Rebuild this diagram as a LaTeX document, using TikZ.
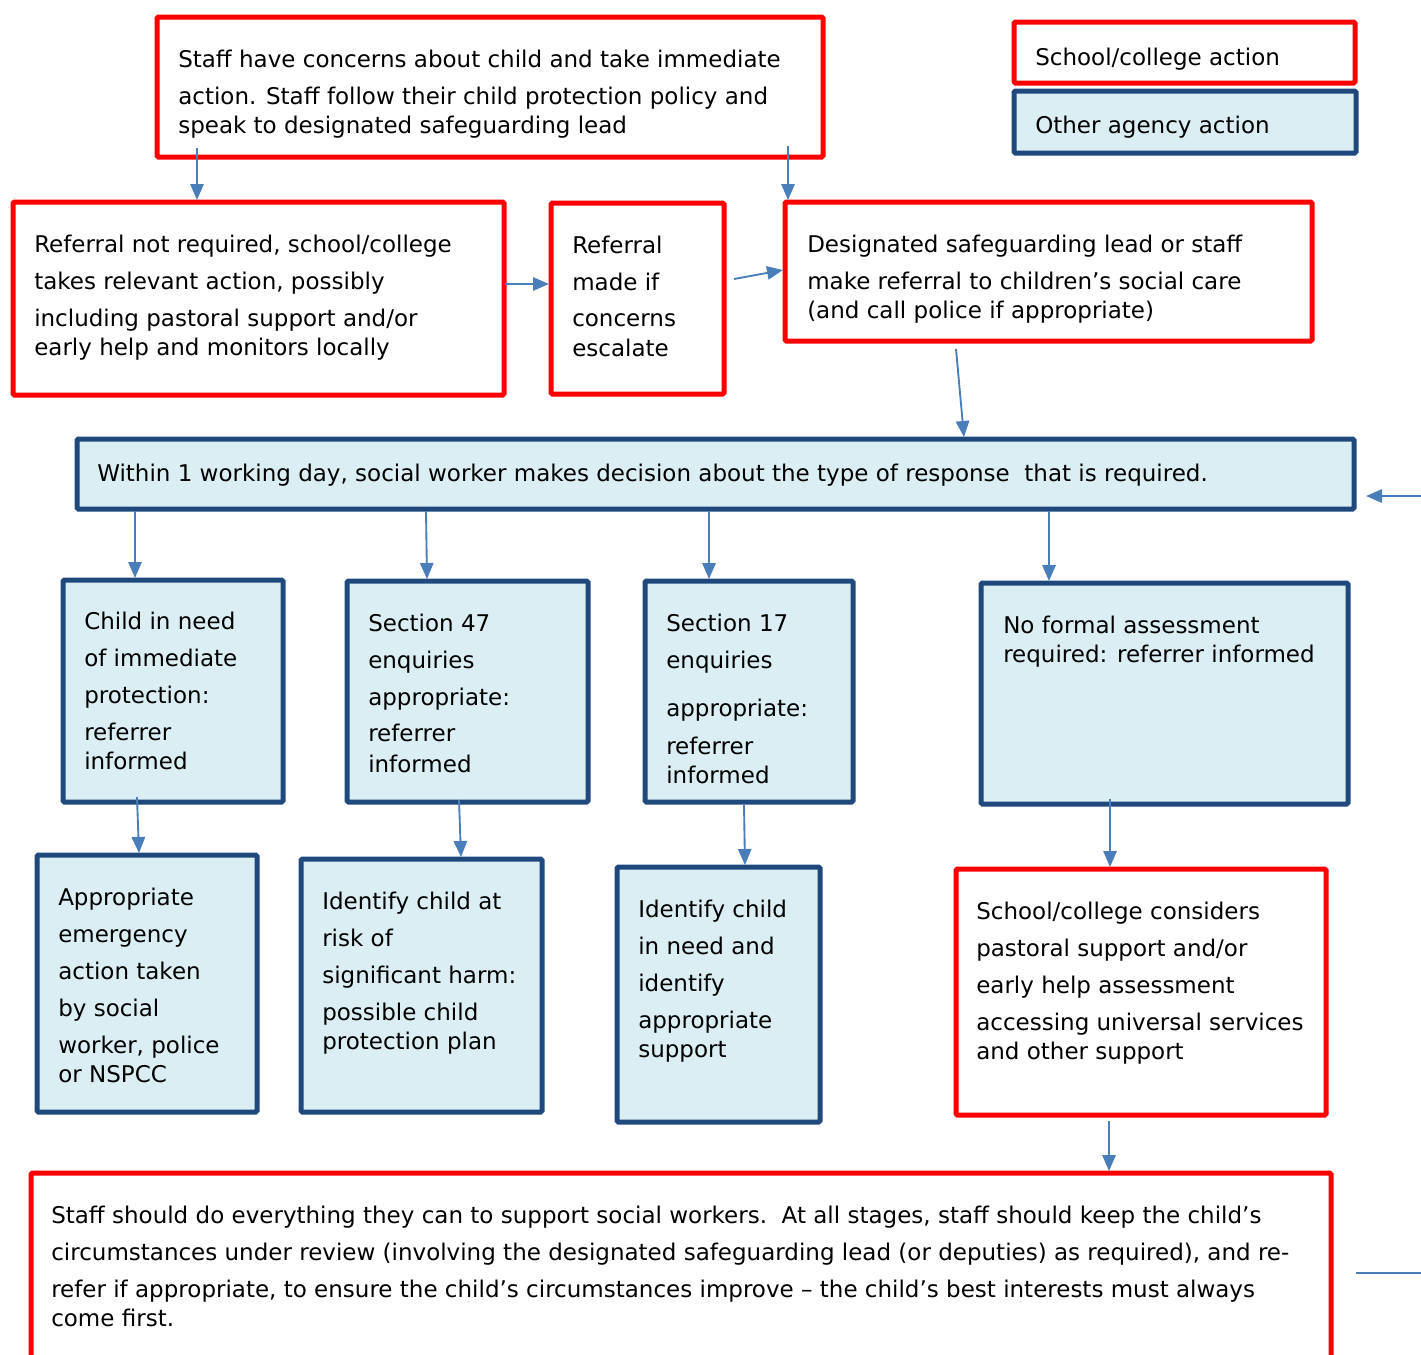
\documentclass[tikz,border=0pt]{standalone}
\usepackage{fontspec}
\setmainfont{DejaVu Sans}
\usetikzlibrary{arrows.meta,fit}
\definecolor{schoolred}{HTML}{FF0000}
\definecolor{agencyblue}{HTML}{1F497D}
\definecolor{agencyfill}{HTML}{DAEEF3}
\definecolor{arrowblue}{HTML}{4A7EBB}
\newcommand\flowfont{\fontsize{17.25pt}{21.75pt}\selectfont}

\begin{document}
\begin{tikzpicture}[
    x=0.75pt, y=-0.75pt,
    school/.style={draw=schoolred, line width=3.75pt, fill=white,
        rounded corners=1pt, inner sep=0pt, outer sep=0pt},
    agency/.style={draw=agencyblue, line width=3.75pt, fill=agencyfill,
        rounded corners=1pt, inner sep=0pt, outer sep=0pt},
    txt/.style={anchor=north west, inner sep=0pt, align=left, font=\flowfont},
    arr/.style={draw=arrowblue, line width=1.4pt,
        -{Triangle[length=12pt, width=10pt]}},
    plain/.style={draw=arrowblue, line width=1.4pt}
]
    \useasboundingbox (0,0) rectangle (1421,1354);
    \clip (0,0) rectangle (1421,1354);

    \node[school, fit={(157,17) (823,157)}] (concern) {};
    \node[school, fit={(1014,22) (1355,83)}] (keyschool) {};
    \node[agency, fit={(1014,91) (1356,153)}] (keyagency) {};
    \node[school, fit={(13,202) (504,395)}] (notreq) {};
    \node[school, fit={(551,203) (724,394)}] (made) {};
    \node[school, fit={(785,202) (1312,341)}] (dsl) {};
    \node[agency, fit={(77,439) (1354,509)}] (decision) {};
    \node[agency, fit={(63,580) (283,802)}] (imm) {};
    \node[agency, fit={(347,581) (588,802)}] (sfortyseven) {};
    \node[agency, fit={(645,581) (853,802)}] (sseventeen) {};
    \node[agency, fit={(981,583) (1348,804)}] (noform) {};
    \node[agency, fit={(37,855) (257,1112)}] (emerg) {};
    \node[agency, fit={(301,859) (542,1112)}] (risk) {};
    \node[agency, fit={(617,867) (820,1122)}] (inneed) {};
    \node[school, fit={(956,869) (1326,1115)}] (considers) {};
    \node[school, fit={(31,1173) (1331,1400)}] (review) {};

    \node[txt] (concern-t) at ([shift={(21,30.2)}]concern.north west)
        {\strut Staff have concerns about child and take immediate\\[6pt]
         action. Staff follow their child protection policy and\\
         speak to designated safeguarding lead};
    \node[txt] (keyschool-t) at ([shift={(21,23.2)}]keyschool.north west)
        {\strut School/college action};
    \node[txt] (keyagency-t) at ([shift={(21,22.2)}]keyagency.north west)
        {\strut Other agency action};
    \node[txt] (notreq-t) at ([shift={(21,30.2)}]notreq.north west)
        {\strut Referral not required, school/college\\[6pt]
         takes relevant action, possibly\\[6pt]
         including pastoral support and/or\\
         early help and monitors locally};
    \node[txt] (made-t) at ([shift={(21,30.2)}]made.north west)
        {\strut Referral\\[6pt] made if\\[5.25pt] concerns\\[0.75pt] escalate};
    \node[txt] (dsl-t) at ([shift={(22,30.2)}]dsl.north west)
        {\strut Designated safeguarding lead or staff\\[6pt]
         make referral to children’s social care\\
         (and call police if appropriate)};
    \node[txt] (decision-t) at ([shift={(20,22.2)}]decision.north west)
        {\strut Within 1 working day, social worker makes decision about the type of response\ \ that is required.};
    \node[txt] (imm-t) at ([shift={(21,29.2)}]imm.north west)
        {\strut Child in need\\[6pt] of immediate\\[6pt] protection:\\[6pt] referrer\\ informed};
    \node[txt] (sfortyseven-t) at ([shift={(21,30.2)}]sfortyseven.north west)
        {\strut Section 47\\[6pt] enquiries\\[6pt] appropriate:\\[5.25pt] referrer\\[1.5pt] informed};
    \node[txt] (sseventeen-t) at ([shift={(21,30.2)}]sseventeen.north west)
        {\strut Section 17\\[6pt] enquiries\\[14.25pt] appropriate:\\[6.75pt] referrer\\ informed};
    \node[txt] (noform-t) at ([shift={(22,30.2)}]noform.north west)
        {\strut No formal assessment\\ required: referrer informed};
    \node[txt] (emerg-t) at ([shift={(21,30.2)}]emerg.north west)
        {\strut Appropriate\\[6pt] emergency\\[6pt] action taken\\[6pt] by social\\[6pt] worker, police\\ or NSPCC};
    \node[txt] (risk-t) at ([shift={(21,30.2)}]risk.north west)
        {\strut Identify child at\\[6pt] risk of\\[6pt] significant harm:\\[6pt] possible child\\ protection plan};
    \node[txt] (inneed-t) at ([shift={(21,30.2)}]inneed.north west)
        {\strut Identify child\\[6pt] in need and\\[6pt] identify\\[6pt] appropriate\\ support};
    \node[txt] (considers-t) at ([shift={(20,30.2)}]considers.north west)
        {\strut School/college considers\\[6pt] pastoral support and/or\\[6pt] early help assessment\\[6pt] accessing universal services\\ and other support};
    \node[txt] (review-t) at ([shift={(20,30.2)}]review.north west)
        {\strut Staff should do everything they can to support social workers.\ \ At all stages, staff should keep the child’s\\[6pt]
         circumstances under review (involving the designated safeguarding lead (or deputies) as required), and re-\\[6pt]
         refer if appropriate, to ensure the child’s circumstances improve – the child’s best interests must always\\
         come first.};

    \coordinate (loopin) at (1421,496);
    \coordinate (loopout) at (1421,1273);

    \draw[arr] ([shift={(40,-9)}]concern.south west) -- ([shift={(184,-2)}]notreq.north west);
    \draw[arr] ([shift={(631,-11)}]concern.south west) -- ([shift={(3,-2)}]dsl.north west);
    \draw[arr] ([shift={(1,82)}]notreq.north east) -- ([shift={(-2,81)}]made.north west);
    \draw[arr] ([shift={(10,76)}]made.north east) -- ([shift={(-2,68)}]dsl.north west);
    \draw[arr] ([shift={(171,8)}]dsl.south west) -- ([shift={(887,-2)}]decision.north west);
    \draw[arr] ([shift={(58,2)}]decision.south west) -- ([shift={(72,-2)}]imm.north west);
    \draw[arr] ([shift={(349,2)}]decision.south west) -- ([shift={(80,-2)}]sfortyseven.north west);
    \draw[arr] ([shift={(632,2)}]decision.south west) -- ([shift={(64,-2)}]sseventeen.north west);
    \draw[arr] ([shift={(972,2)}]decision.south west) -- ([shift={(68,-2)}]noform.north west);
    \draw[arr] ([shift={(74,-5)}]imm.south west) -- ([shift={(102,-2)}]emerg.north west);
    \draw[arr] ([shift={(112,-2)}]sfortyseven.south west) -- ([shift={(160,-2)}]risk.north west);
    \draw[arr] ([shift={(99,3)}]sseventeen.south west) -- ([shift={(128,-2)}]inneed.north west);
    \draw[arr] ([shift={(129,-5)}]noform.south west) -- ([shift={(154,-2)}]considers.north west);
    \draw[arr] ([shift={(153,6)}]considers.south west) -- ([shift={(1078,-2)}]review.north west);
    \draw[arr] (loopin) -- ([shift={(12,57)}]decision.north east);
    \draw[plain] ([shift={(25,100)}]review.north east) -- (loopout);
\end{tikzpicture}
\end{document}
